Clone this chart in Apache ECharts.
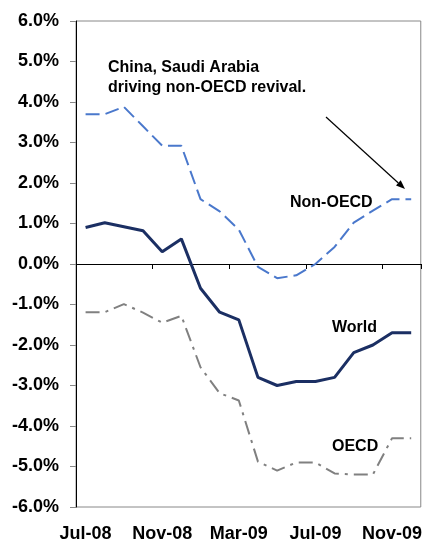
<!DOCTYPE html>
<html>
<head>
<meta charset="utf-8">
<script src="https://cdn.jsdelivr.net/npm/echarts@6/dist/echarts.min.js"></script>
<style>html,body{margin:0;padding:0;background:#fff;}#c{width:425px;height:545px;}</style>
</head>
<body>
<div id="c"></div>
<script>
var months = ['Jul-08','Aug-08','Sep-08','Oct-08','Nov-08','Dec-08','Jan-09','Feb-09','Mar-09','Apr-09','May-09','Jun-09','Jul-09','Aug-09','Sep-09','Oct-09','Nov-09','Dec-09'];
var nonOECD = [3.7, 3.7, 3.88, 3.4, 2.92, 2.92, 1.6, 1.3, 0.85, -0.07, -0.35, -0.28, 0.0, 0.42, 1.02, 1.32, 1.6, 1.6];
var world = [0.9, 1.02, 0.92, 0.82, 0.3, 0.62, -0.6, -1.19, -1.38, -2.8, -3.0, -2.9, -2.9, -2.8, -2.19, -2.0, -1.7, -1.7];
var oecd = [-1.19, -1.19, -0.99, -1.2, -1.45, -1.28, -2.55, -3.19, -3.37, -4.88, -5.1, -4.9, -4.9, -5.17, -5.2, -5.2, -4.3, -4.3];
var yMin = -6, yMax = 6, yStep = 1;

var chart = echarts.init(document.getElementById('c'), null, {renderer: 'canvas'});
var font = '"Liberation Sans", Arial, sans-serif';
var txt = function (t, x, y) {
  return {type: 'text', left: x, top: y, style: {text: t, font: 'bold 16px ' + font, fill: '#000', lineHeight: 20}};
};
// arrow geometry
var ax0 = 326, ay0 = 117, ax1 = 405, ay1 = 189;
var dx = ax1 - ax0, dy = ay1 - ay0, L = Math.sqrt(dx*dx + dy*dy), ux = dx/L, uy = dy/L;
var hl = 9, hw = 3.5;
var bx = ax1 - hl*ux, by = ay1 - hl*uy;

chart.setOption({
  animation: false,
  backgroundColor: '#fff',
  grid: {left: 76, right: 2, top: 21, bottom: 38, show: true, borderColor: '#888', borderWidth: 1},
  xAxis: [{
    type: 'category', data: months, boundaryGap: true, position: 'bottom',
    axisLine: {show: false, onZero: false}, axisTick: {show: false},
    axisLabel: {interval: 3, margin: 18, color: '#000', fontFamily: font, fontWeight: 'bold', fontSize: 18}
  }, {
    type: 'category', data: months, boundaryGap: true, position: 'top',
    axisLine: {show: true, onZero: true, lineStyle: {color: '#000', width: 1}},
    axisTick: {show: true, inside: true, interval: 3, length: 5, lineStyle: {color: '#000'}},
    axisLabel: {show: false}
  }],
  yAxis: {
    type: 'value', min: yMin, max: yMax, interval: yStep,
    axisLine: {show: true, lineStyle: {color: '#000', width: 1}},
    axisTick: {show: true, length: 6, lineStyle: {color: '#888'}},
    splitLine: {show: false},
    axisLabel: {margin: 17, color: '#000', fontFamily: font, fontWeight: 'bold', fontSize: 18,
      formatter: function (v) { return v.toFixed(1) + '%'; }}
  },
  series: [
    {name: 'Non-OECD', type: 'line', data: nonOECD, showSymbol: false, symbol: 'none',
      lineStyle: {color: '#4A78CC', width: 2, type: [14, 6]}},
    {name: 'OECD', type: 'line', data: oecd, showSymbol: false, symbol: 'none',
      lineStyle: {color: '#808080', width: 2, type: [14, 6, 3, 6]}},
    {name: 'World', type: 'line', data: world, showSymbol: false, symbol: 'none',
      lineStyle: {color: '#1B2F63', width: 3}}
  ],
  graphic: [
    txt('China, Saudi Arabia\ndriving non-OECD revival.', 108, 58),
    txt('Non-OECD', 290, 193),
    txt('World', 332, 318),
    txt('OECD', 332, 437),
    {type: 'line', shape: {x1: ax0, y1: ay0, x2: bx, y2: by}, style: {stroke: '#000', lineWidth: 1.2}},
    {type: 'polygon', shape: {points: [[ax1, ay1], [bx - hw*uy, by + hw*ux], [bx + hw*uy, by - hw*ux]]}, style: {fill: '#000'}}
  ]
});
</script>
</body>
</html>
